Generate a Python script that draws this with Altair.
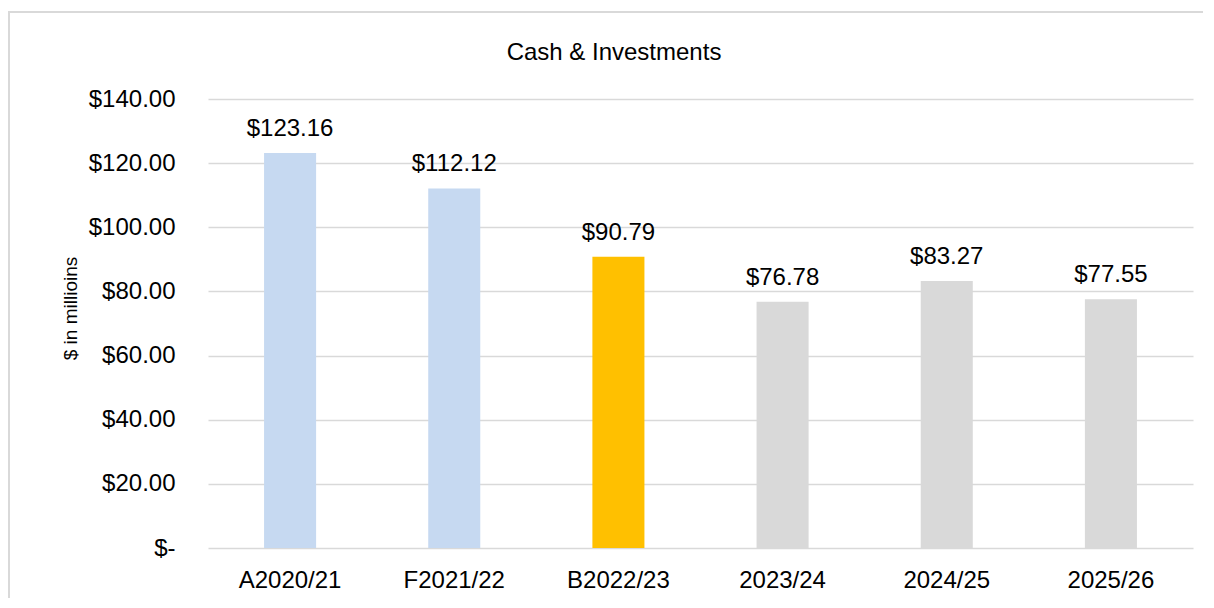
import altair as alt
import pandas as pd

categories = ["A2020/21", "F2021/22", "B2022/23", "2023/24", "2024/25", "2025/26"]
values = [123.16, 112.12, 90.79, 76.78, 83.27, 77.55]
groups = ["actual", "actual", "budget", "plan", "plan", "plan"]
y_ticks = [0, 20, 40, 60, 80, 100, 120, 140]
chart_title = "Cash & Investments"
y_title = "$ in millioins"

group_domain = ["actual", "budget", "plan"]
group_colors = ["#C6D9F1", "#FFC000", "#D9D9D9"]

df = pd.DataFrame({"cat": categories, "value": values, "group": groups})

FONT = "Liberation Sans"
NBSP = "\u00a0"

x_enc = alt.X(
    "cat:N",
    sort=categories,
    scale=alt.Scale(paddingInner=0.683, paddingOuter=0.3415),
    axis=alt.Axis(
        title=None, labelAngle=0, labelFontSize=24, labelFont=FONT, labelColor="#000000",
        ticks=False, tickSize=0, domain=False, labelPadding=20, labelBaseline="top",
    ),
)
y_enc = alt.Y(
    "value:Q",
    scale=alt.Scale(domain=[0, 140], nice=False),
    axis=alt.Axis(
        values=y_ticks,
        title=y_title,
        titleFont=FONT, titleFontSize=19, titleFontWeight="normal", titleColor="#000000",
        titleAngle=-90, titleX=-132, titleY=209, titleAlign="center", titleBaseline="alphabetic",
        labelFont=FONT, labelFontSize=24, labelColor="#000000", labelPadding=33,
        labelExpr=f"datum.value == 0 ? '$-{NBSP}{NBSP}' : '$' + format(datum.value, '.2f')",
        ticks=False, domain=False,
        grid=True, gridColor="#D9D9D9", gridWidth=1.5,
    ),
)

bars = alt.Chart(df).mark_bar().encode(
    x=x_enc,
    y=y_enc,
    color=alt.Color("group:N", scale=alt.Scale(domain=group_domain, range=group_colors), legend=None),
)

labels = alt.Chart(df).mark_text(
    font=FONT, fontSize=24, color="#000000", baseline="alphabetic", dy=-17
).encode(
    x=alt.X("cat:N", sort=categories),
    y="value:Q",
    text=alt.Text("value:Q", format="$,.2f"),
)

frame_data = alt.Data(values=[{}])
border_left = alt.Chart(frame_data).mark_rule(color="#D9D9D9", strokeWidth=2).encode(
    x=alt.value(-199), y=alt.value(-88), y2=alt.value(560)
)
border_top = alt.Chart(frame_data).mark_rule(color="#D9D9D9", strokeWidth=2).encode(
    x=alt.value(-200), x2=alt.value(1010), y=alt.value(-87)
)

title_text = alt.Chart(alt.Data(values=[{"t": chart_title}])).mark_text(
    font=FONT, fontSize=24, color="#000000", baseline="alphabetic", align="center"
).encode(
    x=alt.value(406), y=alt.value(-39), text="t:N"
)

chart = alt.layer(border_left, border_top, bars, labels, title_text).properties(
    width=985,
    height=449,
    autosize=alt.AutoSizeParams(type="none"),
    padding={"left": 200, "top": 91, "right": 10, "bottom": 50},
    background="#FFFFFF",
).configure_view(stroke=None)

chart.save("out.html", embed_options={"renderer": "svg", "actions": False})
